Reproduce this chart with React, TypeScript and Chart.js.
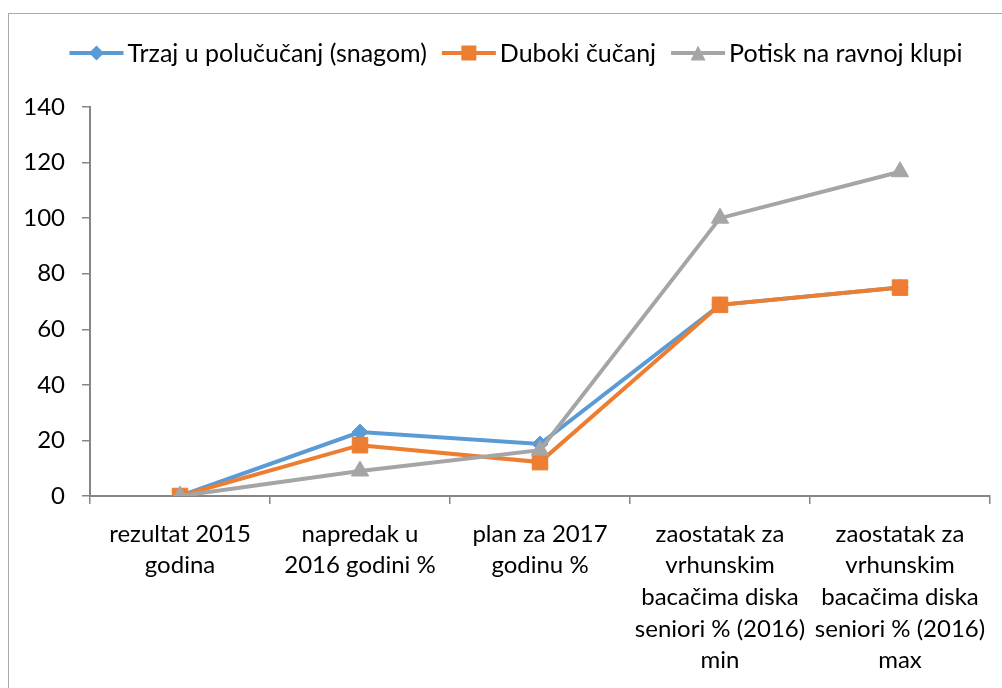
import React, { useEffect, useRef } from 'react';
import { Chart, registerables } from 'chart.js';

Chart.register(...registerables);

const categories: string[][] = [
  ['rezultat 2015', 'godina'],
  ['napredak u', '2016 godini %'],
  ['plan za 2017', 'godinu %'],
  ['zaostatak za', 'vrhunskim', 'bacačima diska', 'seniori % (2016)', 'min'],
  ['zaostatak za', 'vrhunskim', 'bacačima diska', 'seniori % (2016)', 'max'],
];
const seriesNames = ['Trzaj u polučučanj (snagom)', 'Duboki čučanj', 'Potisk na ravnoj klupi'];
const trzaj = [0, 23, 18.7, 68.8, 75];
const duboki = [0, 18.3, 12.2, 68.8, 75];
const potisk = [0, 9, 16.5, 100, 116.7];
const yMin = 0;
const yMax = 140;
const yStep = 20;

const COLORS = ['#5B9BD5', '#ED7D31', '#A5A5A5'];
const STYLES = ['rectRot', 'rect', 'triangle'];
const FONT = 'Lato, "Open Sans", sans-serif';

function drawMarker(ctx: CanvasRenderingContext2D, style: string, x: number, y: number, color: string) {
  ctx.save();
  ctx.fillStyle = color;
  ctx.beginPath();
  if (style === 'rectRot') {
    const r = 7.5;
    ctx.moveTo(x, y - r);
    ctx.lineTo(x + r, y);
    ctx.lineTo(x, y + r);
    ctx.lineTo(x - r, y);
    ctx.closePath();
  } else if (style === 'rect') {
    const h = 7.5;
    ctx.rect(x - h, y - h, 2 * h, 2 * h);
  } else {
    const h = 7.5;
    ctx.moveTo(x, y - h);
    ctx.lineTo(x + h, y + h);
    ctx.lineTo(x - h, y + h);
    ctx.closePath();
  }
  ctx.fill();
  ctx.restore();
}

const legendPlugin = {
  id: 'excelLegend',
  afterDraw(chart: any) {
    const ctx: CanvasRenderingContext2D = chart.ctx;
    ctx.save();
    ctx.font = `25px ${FONT}`;
    ctx.textBaseline = 'middle';
    const lineW = 54;
    const gapText = 4;
    const gapItem = 15;
    const widths = seriesNames.map((n) => ctx.measureText(n).width);
    const total = widths.reduce((a, b) => a + b, 0) + seriesNames.length * (lineW + gapText) + (seriesNames.length - 1) * gapItem;
    let x = 516 - total / 2;
    const y = 53;
    seriesNames.forEach((name, i) => {
      ctx.strokeStyle = COLORS[i];
      ctx.lineWidth = 4;
      ctx.beginPath();
      ctx.moveTo(x, y);
      ctx.lineTo(x + lineW, y);
      ctx.stroke();
      drawMarker(ctx, STYLES[i], x + lineW / 2, y, COLORS[i]);
      ctx.fillStyle = '#000';
      ctx.fillText(name, x + lineW + gapText, y + 1);
      x += lineW + gapText + widths[i] + gapItem;
    });
    ctx.restore();
  },
};

export default function App() {
  const ref = useRef<HTMLCanvasElement | null>(null);
  useEffect(() => {
    if (!ref.current) return;
    const mk = (i: number, data: number[], order: number) => ({
      label: seriesNames[i],
      data,
      borderColor: COLORS[i],
      backgroundColor: COLORS[i],
      pointBackgroundColor: COLORS[i],
      pointBorderColor: COLORS[i],
      pointStyle: STYLES[i],
      pointRadius: i === 0 ? 8 : i === 1 ? 11 : 10,
      pointBorderWidth: 1,
      borderWidth: 4,
      tension: 0,
      order,
    });
    const chart = new Chart(ref.current, {
      type: 'line',
      data: {
        labels: categories,
        datasets: [mk(0, trzaj, 2), mk(1, duboki, 1), mk(2, potisk, 0)],
      },
      options: {
        animation: false,
        responsive: false,
        layout: { padding: { top: 107, right: 12, bottom: 0, left: 0 } },
        plugins: { legend: { display: false }, tooltip: { enabled: false } },
        scales: {
          x: {
            offset: true,
            grid: { offset: true, drawOnChartArea: false, drawTicks: true, tickLength: 8, color: '#868686', lineWidth: 1.5 },
            border: { color: '#868686', width: 2 },
            ticks: {
              color: '#000',
              font: { family: FONT, size: 24, lineHeight: 1.32 },
              padding: 14,
              maxRotation: 0,
              autoSkip: false,
            },
            afterFit: (s: any) => { s.height = 192; },
          },
          y: {
            min: yMin,
            max: yMax,
            grid: { drawOnChartArea: false, drawTicks: true, tickLength: 8, color: '#868686', lineWidth: 1.5 },
            border: { color: '#868686', width: 2 },
            ticks: {
              stepSize: yStep,
              color: '#000',
              font: { family: FONT, size: 24 },
              padding: 17,
            },
            afterFit: (s: any) => { s.width = 90; },
          },
        },
      },
      plugins: [legendPlugin],
    });
    return () => chart.destroy();
  }, []);
  return (
    <div style={{ position: 'fixed', left: 0, top: 0, width: 1002, height: 688, background: '#fff', overflow: 'hidden' }}>
      <div style={{ position: 'absolute', left: 8, top: 13, width: 1100, height: 800, border: '1px solid #ababab' }} />
      <canvas ref={ref} width={1002} height={688} style={{ position: 'absolute', left: 0, top: 0 }} />
    </div>
  );
}
